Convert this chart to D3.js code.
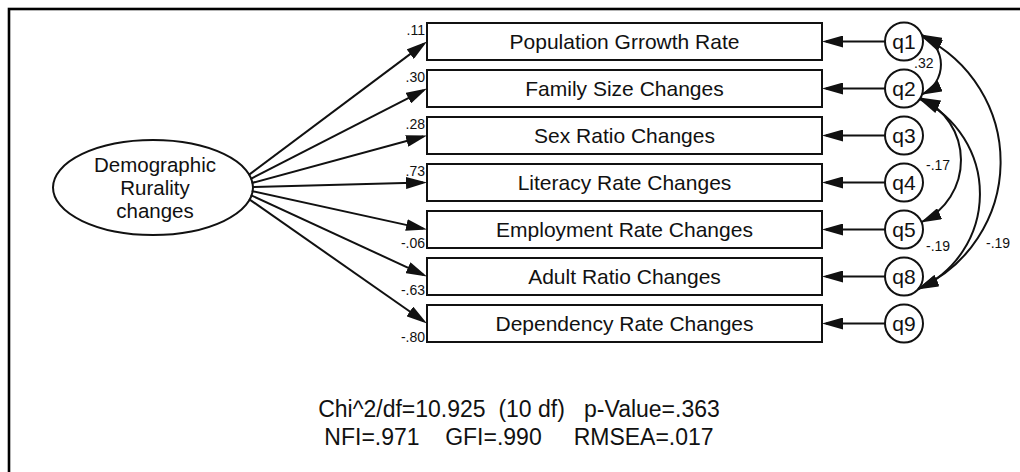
<!DOCTYPE html>
<html>
<head>
<meta charset="utf-8">
<script src="https://cdn.jsdelivr.net/npm/d3@7"></script>
<style>
body{margin:0;background:#fff;}
svg{display:block;}
text{font-family:"Liberation Sans",Arial,sans-serif;fill:#111;}
</style>
</head>
<body>
<script>
// model values
var indicators = ["Population Grrowth Rate", "Family Size Changes", "Sex Ratio Changes",
    "Literacy Rate Changes", "Employment Rate Changes", "Adult Ratio Changes", "Dependency Rate Changes"];
var loadings = [".11", ".30", ".28", ".73", "-.06", "-.63", "-.80"];
var errorTerms = ["q1", "q2", "q3", "q4", "q5", "q8", "q9"];
var covFrom = ["q1", "q2", "q2", "q1"];
var covTo = ["q2", "q5", "q8", "q8"];
var covValues = [".32", "-.17", "-.19", "-.19"];
var latentLines = ["Demographic", "Rurality", "changes"];
var fitLines = ["Chi^2/df=10.925  (10 df)   p-Value=.363", "NFI=.971    GFI=.990     RMSEA=.017"];

var width = 1020, height = 472;
var ink = "#111";

var svg = d3.select('body').append('svg')
    .attr('width', width)
    .attr('height', height);

var defs = svg.append('defs');
function marker(id, refX){
    defs.append('marker')
        .attr('id', id)
        .attr('markerUnits', 'userSpaceOnUse')
        .attr('viewBox', '0 0 21 12')
        .attr('markerWidth', 21)
        .attr('markerHeight', 12)
        .attr('refX', refX)
        .attr('refY', 6)
        .attr('orient', 'auto-start-reverse')
      .append('path')
        .attr('d', 'M0,0L21,6L0,12Z')
        .style('fill', ink);
}
marker('head', 17);
marker('arcHead', 20);

// frame (runs off the right and bottom of the picture)
svg.append('rect')
    .attr('x', 9).attr('y', 9)
    .attr('width', 1100).attr('height', 600)
    .style('fill', 'none').style('stroke', '#000').style('stroke-width', 2.6);

// rows of observed variables
var y = d3.scaleBand()
    .domain(indicators)
    .range([23, 342])
    .paddingInner(10/47);

var boxLeft = 427, boxRight = 822;
var circleX = 904, circleR = 19;
var errY = d3.scaleOrdinal().domain(errorTerms).range(indicators.map(function(d){ return y(d) + y.bandwidth()/2; }));

var boxes = svg.selectAll('g.box').data(indicators).enter().append('g').attr('class', 'box');
boxes.append('rect')
    .attr('x', boxLeft)
    .attr('y', function(d){ return y(d); })
    .attr('width', boxRight - boxLeft)
    .attr('height', y.bandwidth())
    .style('fill', '#fff').style('stroke', ink).style('stroke-width', 2);
boxes.append('text')
    .attr('x', (boxLeft + boxRight)/2)
    .attr('y', function(d){ return y(d) + y.bandwidth()/2 + 7.5; })
    .attr('text-anchor', 'middle')
    .style('font-size', '21px')
    .text(function(d){ return d; });

// latent variable
var ell = {cx: 153, cy: 187.5, rx: 100, ry: 47.5};
svg.append('ellipse')
    .attr('cx', ell.cx).attr('cy', ell.cy)
    .attr('rx', ell.rx).attr('ry', ell.ry)
    .style('fill', '#fff').style('stroke', ink).style('stroke-width', 2);
svg.selectAll('text.latent').data(latentLines).enter().append('text')
    .attr('class', 'latent')
    .attr('x', ell.cx + 2)
    .attr('y', function(d, i){ return 172 + i*23; })
    .attr('text-anchor', 'middle')
    .style('font-size', '20.5px')
    .text(function(d){ return d; });

// loading paths, fanning out from the right side of the ellipse
var paths = indicators.map(function(d, i){
    var ty = y(d) + y.bandwidth()/2;
    var sy = ell.cy + (ty - ell.cy)*0.085;
    var sx = ell.cx + ell.rx*Math.sqrt(1 - Math.pow((sy - ell.cy)/ell.ry, 2)) - 1;
    var dx = boxLeft - sx, dy = ty - sy, len = Math.sqrt(dx*dx + dy*dy);
    return {x1: sx, y1: sy, x2: boxLeft - dx/len*4, y2: ty - dy/len*4};
});
svg.selectAll('line.load').data(paths).enter().append('line')
    .attr('class', 'load')
    .attr('x1', function(d){ return d.x1; })
    .attr('y1', function(d){ return d.y1; })
    .attr('x2', function(d){ return d.x2; })
    .attr('y2', function(d){ return d.y2; })
    .style('stroke', ink).style('stroke-width', 2)
    .attr('marker-end', 'url(#head)');

svg.selectAll('text.loading').data(loadings).enter().append('text')
    .attr('class', 'loading')
    .attr('x', 425)
    .attr('y', function(d, i){
        var top = y(indicators[i]);
        return i < 4 ? top + 12 : top + y.bandwidth();
    })
    .attr('text-anchor', 'end')
    .style('font-size', '14px')
    .text(function(d){ return d; });

// error terms
var errs = svg.selectAll('g.err').data(errorTerms).enter().append('g').attr('class', 'err');
errs.append('line')
    .attr('x1', circleX - circleR)
    .attr('y1', function(d){ return errY(d); })
    .attr('x2', boxRight + 4)
    .attr('y2', function(d){ return errY(d); })
    .style('stroke', ink).style('stroke-width', 2)
    .attr('marker-end', 'url(#head)');
errs.append('circle')
    .attr('cx', circleX)
    .attr('cy', function(d){ return errY(d); })
    .attr('r', circleR)
    .style('fill', '#fff').style('stroke', ink).style('stroke-width', 2);
errs.append('text')
    .attr('x', circleX)
    .attr('y', function(d){ return errY(d) + 7; })
    .attr('text-anchor', 'middle')
    .style('font-size', '21px')
    .text(function(d){ return d; });

// covariance arcs: angle where each end meets its circle, bulge of the arc, label spot
var arcLayout = [
    {a1: -20, a2: 18, bulge: 19, lx: 914, ly: 68},
    {a1: 30, a2: -23, bulge: 40, lx: 926, ly: 170},
    {a1: 34, a2: 42, bulge: 61, lx: 926, ly: 251},
    {a1: -14, a2: 39, bulge: 80, lx: 986, ly: 248}
];
function onCircle(name, deg){
    var a = deg*Math.PI/180;
    return [circleX + circleR*Math.cos(a), errY(name) + circleR*Math.sin(a)];
}
var arcs = covValues.map(function(v, i){
    var L = arcLayout[i];
    var p1 = onCircle(covFrom[i], L.a1), p2 = onCircle(covTo[i], L.a2);
    var c = Math.hypot(p2[0] - p1[0], p2[1] - p1[1]);
    var r = (c*c/4 + L.bulge*L.bulge)/(2*L.bulge);
    return {d: 'M' + p1[0] + ',' + p1[1] + 'A' + r + ',' + r + ' 0 0 1 ' + p2[0] + ',' + p2[1],
            value: v, lx: L.lx, ly: L.ly};
});
svg.selectAll('path.cov').data(arcs).enter().append('path')
    .attr('class', 'cov')
    .attr('d', function(d){ return d.d; })
    .style('fill', 'none').style('stroke', ink).style('stroke-width', 2)
    .attr('marker-start', 'url(#arcHead)')
    .attr('marker-end', 'url(#arcHead)');
svg.selectAll('text.covlab').data(arcs).enter().append('text')
    .attr('class', 'covlab')
    .attr('x', function(d){ return d.lx; })
    .attr('y', function(d){ return d.ly; })
    .style('font-size', '14px')
    .text(function(d){ return d.value; });

// fit statistics
svg.selectAll('text.fit').data(fitLines).enter().append('text')
    .attr('class', 'fit')
    .attr('x', 519)
    .attr('y', function(d, i){ return 417 + i*28; })
    .attr('text-anchor', 'middle')
    .attr('xml:space', 'preserve')
    .style('white-space', 'pre')
    .style('font-size', '23px')
    .text(function(d){ return d; });
</script>
</body>
</html>
